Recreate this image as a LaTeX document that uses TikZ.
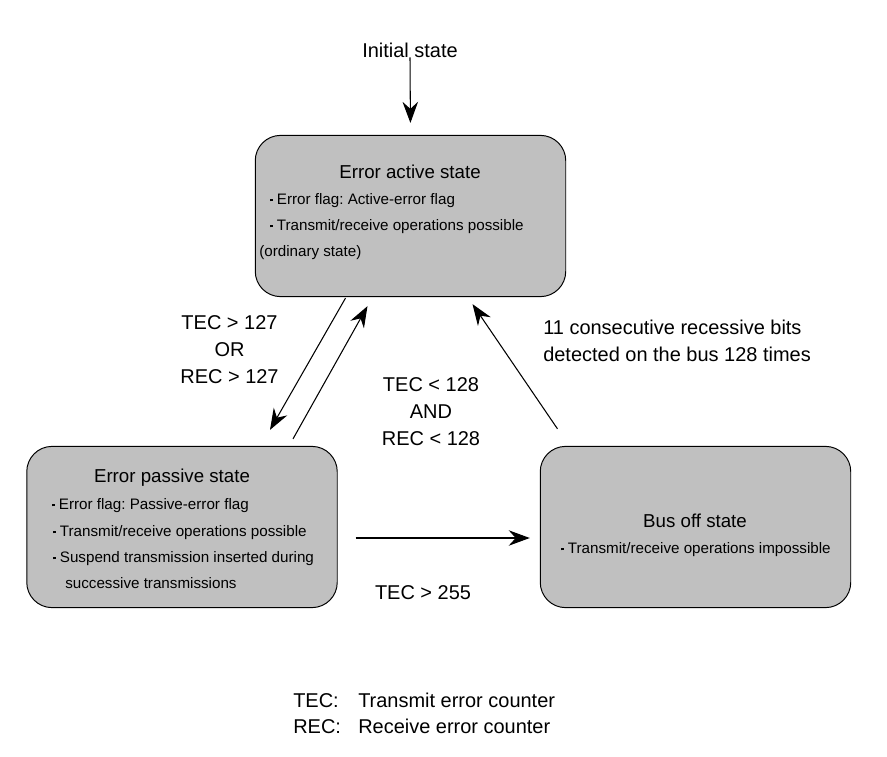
\documentclass[tikz,border=0pt]{standalone}
\usepackage{fontspec}
\setmainfont{Liberation Sans}
\usetikzlibrary{arrows.meta,calc}

\definecolor{stategray}{RGB}{192,192,192}
\newcommand{\dotitem}{\rule[1.8pt]{2.1pt}{2.1pt}\hspace{2.6pt}}
\frenchspacing

\begin{document}
\begin{tikzpicture}[x=0.025cm,y=-0.025cm,
  >={Stealth[length=15pt,width=11pt,inset=5pt]},
  state/.style={draw,line width=0.7pt,fill=stategray,rounded corners=18pt,
    minimum width=7.76cm,minimum height=4.03cm,inner sep=0pt},
  title/.style={anchor=base,inner sep=0pt,font=\fontsize{13.3}{16}\selectfont},
  item/.style={anchor=base west,inner sep=0pt,font=\fontsize{10.8}{13}\selectfont},
  cond/.style={anchor=base,inner sep=0pt,align=center,font=\fontsize{14.2}{19.1}\selectfont},
  arr/.style={->,line width=0.75pt}]
  \useasboundingbox (0,0) rectangle (887,756);

  % states
  \node[state] (active) at (410.5,216) {};
  \node[state] (passive) at (182,527) {};
  \node[state] (busoff) at (695.5,527) {};

  \node[title] (activetitle) at (410,178) {Error active state};
  \node[item] (activeA) at (270,204) {\dotitem Error flag: Active-error flag};
  \node[item] (activeB) at (270,230) {\dotitem Transmit/receive operations possible};
  \node[item] (activeC) at (259,256) {(ordinary state)};

  \node[title] (passivetitle) at (172,482) {Error passive state};
  \node[item] (passiveA) at (52,509) {\dotitem Error flag: Passive-error flag};
  \node[item] (passiveB) at (53,536) {\dotitem Transmit/receive operations possible};
  \node[item] (passiveC) at (53,562) {\dotitem Suspend transmission inserted during};
  \node[item] (passiveD) at (65,588) {successive transmissions};

  \node[title] (busofftitle) at (695,527) {Bus off state};
  \node[item] (busoffA) at (561,553) {\dotitem Transmit/receive operations impossible};

  % transitions
  \node[cond] (init) at (410,57) {Initial state};
  \draw[arr,shorten >=8.5pt] (init.south) -- (active.north);

  \draw[arr] ($(active.south)+(-65,1)$) -- ($(passive.north)+(88,-16)$);
  \draw[arr] ($(passive.north)+(111,-7)$) -- ($(active.south)+(-43,9)$);
  \draw[arr] ($(busoff.north)+(-138,-17)$) -- ($(active.south)+(62,7)$);
  \draw[arr] ($(passive.east)+(18,11)$) -- ($(busoff.west)+(-10,11)$);

  \node[cond] (toPassive) at (229.5,383) {TEC > 127\\OR\\REC > 127};
  \node[cond] (toActive) at (431,445) {TEC < 128\\AND\\REC < 128};
  \node[cond,anchor=base west,align=left] (recover) at (543,361)
    {11 consecutive recessive bits\\detected on the bus 128 times};
  \node[cond] (toBusoff) at (423,599) {TEC > 255};

  % legend
  \node[cond,anchor=base west] (tecKey) at (293,707) {TEC:};
  \node[cond,anchor=base west] (tecText) at (358,707) {Transmit error counter};
  \node[cond,anchor=base west] (recKey) at (293,733) {REC:};
  \node[cond,anchor=base west] (recText) at (358,733) {Receive error counter};
\end{tikzpicture}
\end{document}
